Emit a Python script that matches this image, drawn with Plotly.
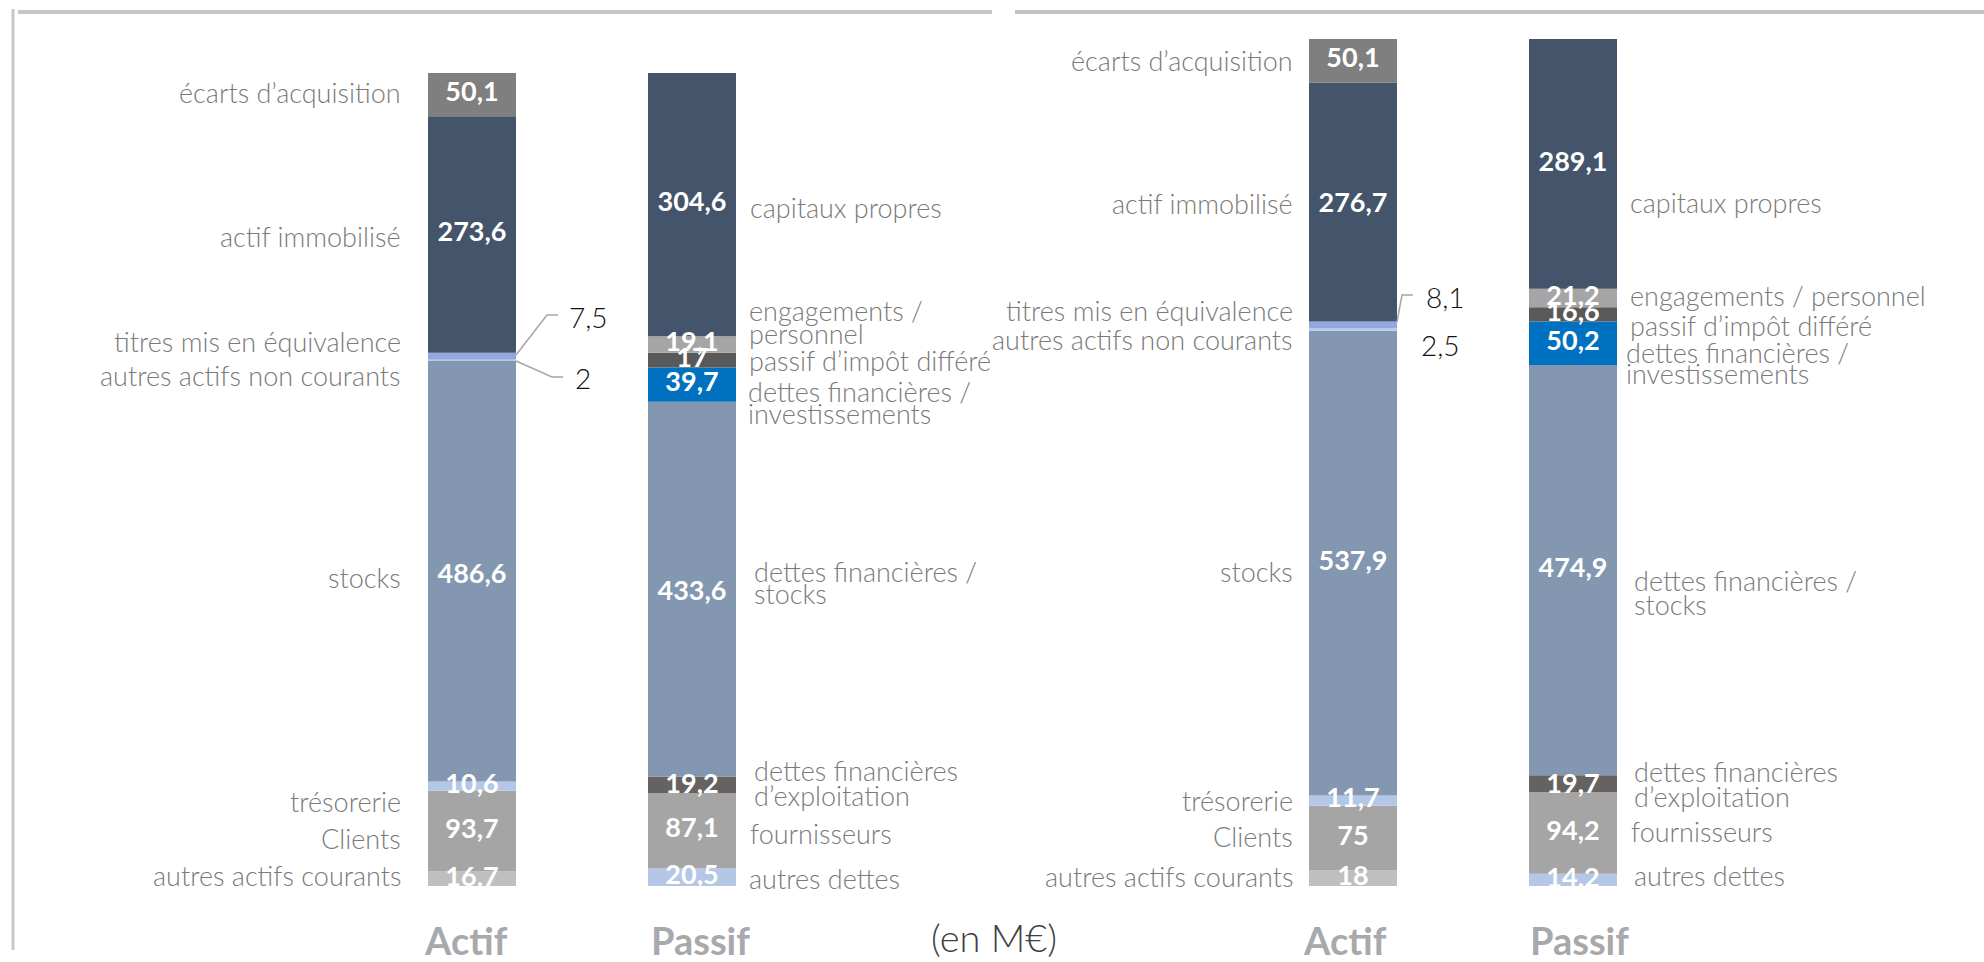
import plotly.graph_objects as go

# ---------------- data ----------------
columns = ["Actif", "Passif"]
unit_label = "(en M€)"

actif_categories = ["autres actifs courants", "Clients", "trésorerie", "stocks",
                    "autres actifs non courants", "titres mis en équivalence",
                    "actif immobilisé", "écarts d’acquisition"]
actif_values_1 = [16.7, 93.7, 10.6, 486.6, 2, 7.5, 273.6, 50.1]
actif_values_2 = [18, 75, 11.7, 537.9, 2.5, 8.1, 276.7, 50.1]

passif_categories_1 = ["autres dettes", "fournisseurs", "dettes financières<br>d’exploitation",
                       "dettes financières /<br>stocks", "dettes financières /<br>investissements",
                       "passif d’impôt différé", "engagements /<br>personnel", "capitaux propres"]
passif_categories_2 = ["autres dettes", "fournisseurs", "dettes financières<br>d’exploitation",
                       "dettes financières /<br>stocks", "dettes financières /<br>investissements",
                       "passif d’impôt différé", "engagements / personnel", "capitaux propres"]
passif_values_1 = [20.5, 87.1, 19.2, 433.6, 39.7, 17, 19.1, 304.6]
passif_values_2 = [14.2, 94.2, 19.7, 474.9, 50.2, 16.6, 21.2, 289.1]

# ---------------- styles ----------------
W, H = 1984, 962
PX_PER_UNIT = 0.8642
BOTTOM_PX = 886
BAR_W = 0.4
UNIT_PX = 220.0

ACTIF_COLORS = ["#bfbfbf", "#a5a5a5", "#b4c7e7", "#8497b0", "#b8c8ea", "#92a8de", "#44546a", "#7f7f7f"]
PASSIF_COLORS = ["#b4c7e7", "#a5a5a5", "#666262", "#8497b0", "#0070c0", "#595959", "#a5a5a5", "#44546a"]
ACTIF_INSIDE = [True, True, True, True, False, False, True, True]

FAM = "Lato, 'Open Sans', sans-serif"
LABEL_FONT = dict(family=FAM, size=27, color="#7a7a7a", weight=300)
VALUE_FONT = dict(family=FAM, size=27, color="white")
CALLOUT_FONT = dict(family=FAM, size=28, color="#111111", weight=300)
COL_FONT = dict(family=FAM, size=38, color="#a7a9ac")
UNIT_FONT = dict(family=FAM, size=38, color="#404040", weight=300)
LINE_COLOR = "#a6a6a6"
TITLE_Y_PX = 940
UNIT_Y_PX = 937

panels = [
    dict(xa="x", ya="y",
         actif=actif_values_1, passif=passif_values_1, passif_cats=passif_categories_1,
         actif_gap=25,
         actif_dy=[[-3], [7], [15], [6], [15], [-14], [2], [-2]],
         actif_val_dy=[0, 0, 0, 5, 0, 0, 0, 0],
         passif_gap=[11, 12, 16, 16, 10, 11, 11, 12],
         passif_dy=[[1], [3], [-14, 11], [-18, 4], [7, 29], [0], [-34, -11], [3]],
         passif_val_dy=[0, 0, 2, 4, 0, 0, 0, 0],
         callouts={5: dict(dx=51, dy=-39, path=[(0, -1), (31, -41), (42, -41)]),
                   4: dict(dx=57, dy=18, path=[(0, 1), (36, 17), (47, 17)])},
         col_dx=[-6, 8]),
    dict(xa="x2", ya="y2",
         actif=actif_values_2, passif=passif_values_2, passif_cats=passif_categories_2,
         actif_gap=14,
         actif_dy=[[-2], [-2], [0], [8], [10], [-15], [2], [0]],
         actif_val_dy=[0, 0, 0, 0, 0, 0, 3, 0],
         passif_gap=[15, 12, 15, 15, 7, 11, 11, 11],
         passif_dy=[[-4], [-2], [-12, 13], [10, 34], [9, 30], [11], [-3], [39]],
         passif_val_dy=[0, 0, 2, 0, 0, 0, 0, 0],
         callouts={5: dict(dx=27, dy=-28, path=[(0, -3), (5, -30), (16, -30)]),
                   4: dict(dx=22, dy=15, path=None)},
         col_dx=[-8, 6]),
]


def fmt(v):
    return f"{v:g}".replace(".", ",")


def stack(values):
    bases, acc = [], 0.0
    for v in values:
        bases.append(acc)
        acc += v
    centers = [b + v / 2 for b, v in zip(bases, values)]
    return bases, centers


fig = go.Figure()
annotations = []
shapes = []

for p in panels:
    xa, ya = p["xa"], p["ya"]
    sides = [(0, p["actif"], ACTIF_COLORS, ACTIF_INSIDE, p["actif_val_dy"]),
             (1, p["passif"], PASSIF_COLORS, [True] * len(p["passif"]), p["passif_val_dy"])]
    for j, vals, cols, inside, vdy in sides:
        bases, centers = stack(vals)
        fig.add_trace(go.Bar(x=[j] * len(vals), y=vals, base=bases, width=BAR_W,
                             marker=dict(color=cols, line=dict(width=0)),
                             xaxis=xa, yaxis=ya, showlegend=False, hoverinfo="skip"))
        idx = [k for k in range(len(vals)) if inside[k]]
        fig.add_trace(go.Scatter(x=[j] * len(idx),
                                 y=[centers[k] - vdy[k] / PX_PER_UNIT for k in idx],
                                 text=[f"<b>{fmt(vals[k])}</b>" for k in idx],
                                 mode="text", textposition="middle center",
                                 textfont=VALUE_FONT, cliponaxis=True, xaxis=xa, yaxis=ya,
                                 showlegend=False, hoverinfo="skip"))

    # actif category labels (right aligned, left of bar)
    _, ac = stack(p["actif"])
    for k, name in enumerate(actif_categories):
        for line, dy in zip(name.split("<br>"), p["actif_dy"][k]):
            annotations.append(dict(text=line, x=-BAR_W / 2, y=ac[k], xref=xa, yref=ya,
                                    xshift=-p["actif_gap"], yshift=-dy, xanchor="right",
                                    yanchor="middle", showarrow=False, font=LABEL_FONT))
    # passif category labels (left aligned, right of bar)
    _, pc = stack(p["passif"])
    for k, name in enumerate(p["passif_cats"]):
        for line, dy in zip(name.split("<br>"), p["passif_dy"][k]):
            annotations.append(dict(text=line, x=1 + BAR_W / 2, y=pc[k], xref=xa, yref=ya,
                                    xshift=p["passif_gap"][k], yshift=-dy, xanchor="left",
                                    yanchor="middle", showarrow=False, font=LABEL_FONT))
    # callouts for thin actif segments
    for k, c in p["callouts"].items():
        annotations.append(dict(text=fmt(p["actif"][k]), x=BAR_W / 2, y=ac[k], xref=xa, yref=ya,
                                xshift=c["dx"], yshift=-c["dy"], xanchor="left", yanchor="middle",
                                showarrow=False, font=CALLOUT_FONT))
        if c["path"]:
            pts = [(BAR_W / 2 + dx / UNIT_PX, ac[k] - dy / PX_PER_UNIT) for dx, dy in c["path"]]
            path = "M " + " L ".join(f"{x:.4f},{y:.3f}" for x, y in pts)
            shapes.append(dict(type="path", path=path, xref=xa, yref=ya,
                               line=dict(color=LINE_COLOR, width=1.5)))
    # column titles
    for j, name in enumerate(columns):
        annotations.append(dict(text=f"<b>{name}</b>", x=j, y=(H - TITLE_Y_PX) / H, xref=xa, yref="paper",
                                xshift=p["col_dx"][j], xanchor="center", yanchor="middle",
                                showarrow=False, font=COL_FONT))

annotations.append(dict(text=unit_label, x=993.5 / W, y=(H - UNIT_Y_PX) / H, xref="paper", yref="paper",
                        xanchor="center", yanchor="middle", showarrow=False, font=UNIT_FONT))

# panel frame lines
shapes += [
    dict(type="line", xref="paper", yref="paper", x0=18 / W, x1=992 / W, y0=1 - 12 / H, y1=1 - 12 / H,
         line=dict(color="#c6c6c6", width=4)),
    dict(type="line", xref="paper", yref="paper", x0=13 / W, x1=13 / W, y0=1 - 9 / H, y1=1 - 950 / H,
         line=dict(color="#c8c8c8", width=3)),
    dict(type="line", xref="paper", yref="paper", x0=1015 / W, x1=1, y0=1 - 12 / H, y1=1 - 12 / H,
         line=dict(color="#c2c2c2", width=4)),
]

y_dom = [(H - BOTTOM_PX) / H, 1]
y_rng = [0, BOTTOM_PX / PX_PER_UNIT]
ax_common = dict(visible=False, showgrid=False, zeroline=False, fixedrange=True)

fig.update_layout(
    width=W, height=H,
    margin=dict(l=0, r=0, t=0, b=0, pad=0),
    paper_bgcolor="white", plot_bgcolor="white",
    barmode="overlay",
    xaxis=dict(domain=[0, 0.5], range=[(0 - 472) / UNIT_PX, (992 - 472) / UNIT_PX], anchor="y", **ax_common),
    yaxis=dict(domain=y_dom, range=y_rng, anchor="x", **ax_common),
    xaxis2=dict(domain=[0.5, 1], range=[(992 - 1353) / UNIT_PX, (1984 - 1353) / UNIT_PX], anchor="y2", **ax_common),
    yaxis2=dict(domain=y_dom, range=y_rng, anchor="x2", **ax_common),
    annotations=annotations,
    shapes=shapes,
    showlegend=False,
)

fig.write_html("out.html", config={"displayModeBar": False},
               post_script="document.body.style.margin='0';document.body.style.overflow='hidden';")
